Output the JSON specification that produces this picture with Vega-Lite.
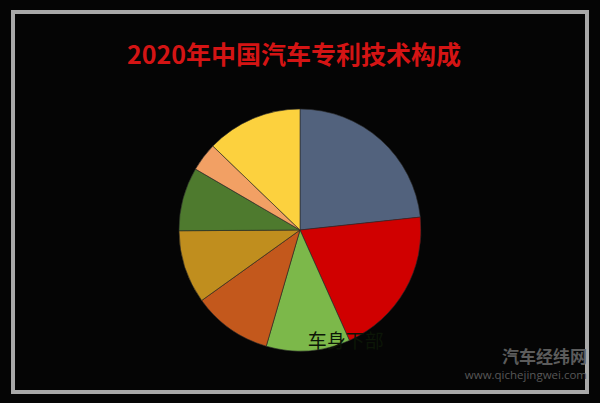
{
  "$schema": "https://vega.github.io/schema/vega-lite/v6.json",
  "autosize": {"type": "none"},
  "width": 574,
  "height": 380,
  "padding": {"left": 13, "top": 12, "right": 13, "bottom": 11},
  "background": "#050505",
  "view": {"stroke": "#a9a9a9", "strokeWidth": 4, "fill": "#050505"},
  "config": {
    "view": {"stroke": "#a9a9a9", "strokeWidth": 4},
    "font": "Noto Sans CJK SC"
  },
  "title": {
    "text": "2020年中国汽车专利技术构成",
    "color": "#d41414",
    "font": "Noto Sans CJK SC",
    "fontSize": 25,
    "fontWeight": "bold",
    "anchor": "middle",
    "dx": -6,
    "offset": -57
  },
  "data": {
    "values": [
      {"idx": 1, "cat": "动力系统", "share": 23.3, "label": ""},
      {"idx": 2, "cat": "电气系统", "share": 20.0, "label": ""},
      {"idx": 3, "cat": "车身", "share": 11.2, "label": "车身下部"},
      {"idx": 4, "cat": "底盘", "share": 10.6, "label": ""},
      {"idx": 5, "cat": "传动系统", "share": 9.8, "label": ""},
      {"idx": 6, "cat": "制动系统", "share": 8.5, "label": ""},
      {"idx": 7, "cat": "转向系统", "share": 3.8, "label": ""},
      {"idx": 8, "cat": "其他", "share": 12.8, "label": ""}
    ]
  },
  "layer": [
    {
      "mark": {"type": "arc", "radius": 121, "yOffset": 28, "stroke": "#2a2a2a", "strokeWidth": 0.6},
      "encoding": {
        "theta": {"field": "share", "type": "quantitative", "stack": true},
        "order": {"field": "idx", "type": "quantitative"},
        "color": {
          "field": "cat",
          "type": "nominal",
          "legend": null,
          "scale": {
            "domain": ["动力系统", "电气系统", "车身", "底盘", "传动系统", "制动系统", "转向系统", "其他"],
            "range": ["#52627d", "#d00000", "#7cb84a", "#c3581c", "#c08e1e", "#4e7a2e", "#f2a064", "#fcd13e"]
          }
        }
      }
    },
    {
      "mark": {"type": "text", "radius": 111, "yOffset": 29, "align": "left", "baseline": "middle", "fontSize": 19, "color": "#0c1607"},
      "encoding": {
        "theta": {"field": "share", "type": "quantitative", "stack": true},
        "order": {"field": "idx", "type": "quantitative"},
        "text": {"field": "label", "type": "nominal"}
      }
    },
    {
      "data": {"values": [{"t": "汽车经纬网"}]},
      "mark": {"type": "text", "x": "width", "y": "height", "dx": 0, "dy": -34, "align": "right", "baseline": "middle", "fontSize": 17, "fontWeight": "bold", "color": "#5c5c5c"},
      "encoding": {"text": {"field": "t", "type": "nominal"}}
    },
    {
      "data": {"values": [{"t": "www.qichejingwei.com"}]},
      "mark": {"type": "text", "x": "width", "y": "height", "dx": 0, "dy": -16, "align": "right", "baseline": "middle", "fontSize": 11.5, "font": "Open Sans", "color": "#575757"},
      "encoding": {"text": {"field": "t", "type": "nominal"}}
    }
  ]
}
